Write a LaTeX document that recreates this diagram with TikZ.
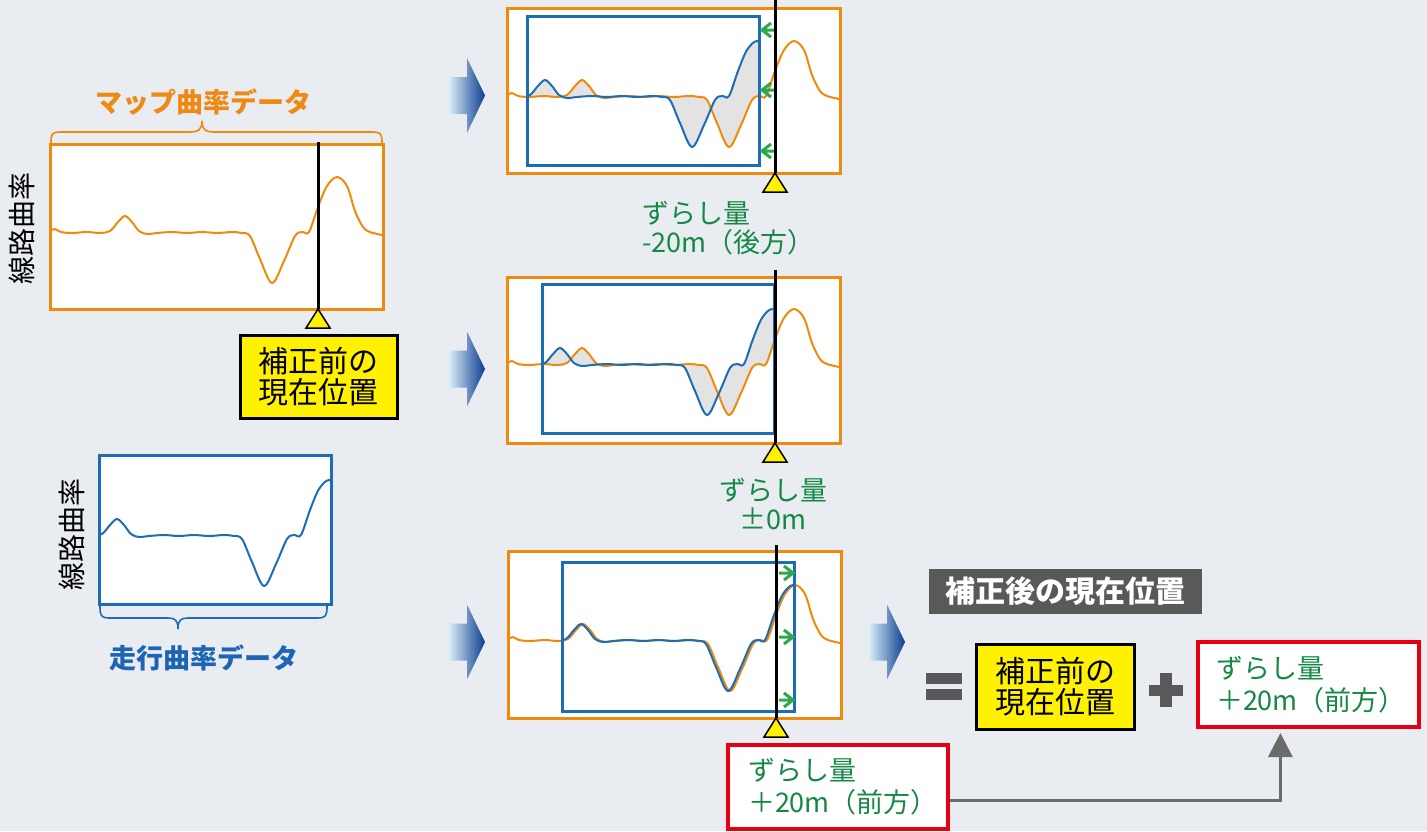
\documentclass[tikz,border=0pt]{standalone}
\usepackage{fontspec}
\newfontfamily\jp{Noto Sans CJK JP}
\usetikzlibrary{arrows.meta,calc}
\definecolor{bgc}{HTML}{E9ECF1}
\definecolor{orn}{HTML}{F08A0C}
\definecolor{blu}{HTML}{1B6DB7}
\definecolor{gtxt}{HTML}{148945}
\definecolor{garr}{HTML}{2EA84F}
\definecolor{redb}{HTML}{E60012}
\definecolor{dgray}{HTML}{595959}
\definecolor{cgray}{HTML}{6B6B6B}
\definecolor{ylw}{HTML}{FFF100}
\definecolor{gfillc}{HTML}{E3E3E3}
\definecolor{arrL}{HTML}{D8EEF9}
\definecolor{arrM}{HTML}{2A7BC4}
\definecolor{arrR}{HTML}{0B3C8E}
\definecolor{otxt}{HTML}{EE8A14}
\definecolor{btxt}{HTML}{1E64B4}

% curve profile: #1 = x of dip minimum, #2 = baseline y
\def\W#1#2{(#1-222,#2-2) (#1-217,#2-4) (#1-211,#2-1) (#1-200,#2) (#1-185,#2-1) (#1-172,#2) (#1-162,#2-2) (#1-154,#2-11) (#1-147,#2-17) (#1-140,#2-11) (#1-133,#2-2) (#1-125,#2+1) (#1-115,#2) (#1-100,#2-1) (#1-85,#2) (#1-70,#2-1) (#1-55,#2) (#1-40,#2-1) (#1-30,#2) (#1-22,#2+3) (#1-12,#2+26) (#1,#2+50) (#1+12,#2+28) (#1+23,#2+3) (#1+30,#2-1) (#1+37,#2-1) (#1+46,#2-26) (#1+55,#2-47) (#1+65,#2-56) (#1+75,#2-47) (#1+83,#2-22) (#1+91,#2-6) (#1+98,#2-1) (#1+110,#2+2)}
\newcommand\wave[3]{\edef\tmpw{\noexpand\draw[#3] plot[smooth,tension=0.55] coordinates {\W{#1}{#2}};}\tmpw}
\newcommand\wavefill[4]{\edef\tmpw{\noexpand\fill[gfill,even odd rule] plot[smooth,tension=0.55] coordinates {\W{#1}{#2}} -- (#1+110,#2+150) -- (#1-222,#2+150) -- cycle plot[smooth,tension=0.55] coordinates {\W{#3}{#4}} -- (#3+110,#2+150) -- (#3-222,#2+150) -- cycle;}\tmpw}
\newcommand\barrow[2]{\shade[left color=arrL, middle color=arrM, right color=arrR] (#1,#2-18.5) -- (#1+18,#2-18.5) -- (#1+18,#2-37.5) -- (#1+36,#2) -- (#1+18,#2+37.5) -- (#1+18,#2+18.5) -- (#1,#2+18.5) -- cycle;}
\newcommand\postri[2]{\draw[tri] (#1,#2) -- (#1-12,#2+19) -- (#1+12,#2+19) -- cycle;}
\newcommand\larr[2]{\draw[garrow] (#1+12,#2) -- (#1+1,#2) (#1+9,#2-7) -- (#1,#2) -- (#1+9,#2+7);}
\newcommand\rarr[2]{\draw[garrow] (#1-14,#2) -- (#1-1,#2) (#1-9,#2-7) -- (#1,#2) -- (#1-9,#2+7);}

\begin{document}
\begin{tikzpicture}[x=1pt,y=-1pt,
  obox/.style={draw=orn, line width=3pt, fill=white},
  bbox/.style={draw=blu, line width=3pt},
  ocurve/.style={orn, line width=2pt},
  bcurve/.style={blu, line width=2pt},
  gfill/.style={fill=gfillc},
  posline/.style={black, line width=3pt},
  tri/.style={fill=ylw, draw=black, line width=1.5pt, line join=miter},
  garrow/.style={garr, line width=3pt, line join=miter},
  brace/.style={line width=1.6pt},
  ylbox/.style={draw=black, line width=3pt, fill=ylw, align=center, inner sep=0pt, font=\jp\fontsize{30}{30.5}\selectfont},
  rbox/.style={draw=redb, line width=4pt, fill=white, align=left, text=gtxt, text width=180pt, inner xsep=20pt, inner ysep=0pt, minimum height=84pt, font=\jp\fontsize{27}{32}\selectfont},
  gtext/.style={text=gtxt, inner sep=0pt, font=\jp\fontsize{27}{29.5}\selectfont},
  conn/.style={cgray, line width=3pt, -{Triangle[width=24pt,length=24pt]}, shorten >=4pt},
  sym/.style={fill=dgray}
]
\useasboundingbox (0,0) rectangle (1427,831);
\fill[bgc] (0,0) rectangle (1427,831);

% ---------- left: map curvature ----------
\draw[obox] (50,144) rectangle (383,309);
\wave{272}{233}{ocurve}
\draw[posline] (318,142) -- (318,309);
\postri{318}{309}
\draw[orn, brace] (51,143) .. controls (51,133) and (52,132) .. (62,132) -- (190,132) .. controls (198,132) and (202,130) .. (202,121) .. controls (202,130) and (206,132) .. (214,132) -- (371,132) .. controls (381,132) and (382,133) .. (382,143);
\node[text=otxt, font=\jp\bfseries\fontsize{27}{30}\selectfont] (maplab) at (203,102) {マップ曲率データ};
\node[rotate=90, font=\jp\fontsize{28}{30}\selectfont] (ylab1) at (22,228) {線路曲率};
\node[ylbox, minimum width=157pt, minimum height=83pt] (before1) at (318.5,376.5) {補正前の\\現在位置};

% ---------- left: running curvature ----------
\draw[bbox, fill=white] (99,455) rectangle (331,604);
\begin{scope}
  \clip (99,455) rectangle (331,604);
  \wave{264}{536}{bcurve}
\end{scope}
\draw[bbox] (99,455) rectangle (331,604);
\draw[blu, brace] (100,606) .. controls (100,616) and (101,618) .. (110,618) -- (168,618) .. controls (175,618) and (178,620) .. (178,629) .. controls (178,620) and (181,618) .. (188,618) -- (317,618) .. controls (326,618) and (327,616) .. (327,606);
\node[text=btxt, font=\jp\bfseries\fontsize{27}{30}\selectfont] (runlab) at (204,658) {走行曲率データ};
\node[rotate=90, font=\jp\fontsize{28}{30}\selectfont] (ylab2) at (72,534) {線路曲率};

% ---------- block arrows ----------
\barrow{449}{95.5}
\barrow{449}{369}
\barrow{449}{642}
\barrow{869}{642}

% ---------- panel 1 : -20m ----------
\draw[obox] (507,8) rectangle (840,173);
\begin{scope}
  \clip (527,16) rectangle (759,165);
  \wavefill{729}{97}{692}{97}
\end{scope}
\wave{729}{97}{ocurve}
\begin{scope}
  \clip (527,16) rectangle (759,165);
  \wave{692}{97}{bcurve}
\end{scope}
\draw[bbox] (527,16) rectangle (759,165);
\draw[posline] (775,0) -- (775,173);
\postri{775}{173}
\larr{762}{30}
\larr{762}{90}
\larr{762}{151}
\node[gtext, align=left, anchor=west] (shift1) at (642,228) {ずらし量\\-20m（後方）};

% ---------- panel 2 : 0m ----------
\draw[obox] (507,277) rectangle (840,443);
\begin{scope}
  \clip (542,284) rectangle (774,433);
  \wavefill{729}{365}{707}{365}
\end{scope}
\wave{729}{365}{ocurve}
\begin{scope}
  \clip (542,284) rectangle (774,433);
  \wave{707}{365}{bcurve}
\end{scope}
\draw[bbox] (542,284) rectangle (774,433);
\draw[posline] (775,270) -- (775,443);
\postri{775}{443}
\node[gtext, align=center] (shift2) at (773,504) {ずらし量\\±0m};

% ---------- panel 3 : +20m ----------
\draw[obox] (508,551) rectangle (841,718);
\wave{730}{641}{ocurve}
\begin{scope}
  \clip (562,562) rectangle (794,711);
  \wave{728}{641}{bcurve}
\end{scope}
\draw[bbox] (562,562) rectangle (794,711);
\draw[posline] (776,545) -- (776,718);
\postri{776}{718}
\rarr{793}{573}
\rarr{793}{637}
\rarr{793}{700}

% ---------- result ----------
\node[rbox] (redA) at (838,787) {ずらし量\\＋20m（前方）};
\node[fill=dgray, text=white, minimum width=273pt, minimum height=45pt, inner sep=0pt, font=\jp\bfseries\fontsize{30}{32}\selectfont] (after) at (1065.5,591.5) {補正後の現在位置};
\fill[sym] (926,673) rectangle (962,684);
\fill[sym] (926,689) rectangle (962,700);
\node[ylbox, minimum width=158pt, minimum height=85pt] (before2) at (1055,686.5) {補正前の\\現在位置};
\fill[sym] (1149,685) rectangle (1183,696);
\fill[sym] (1160,673) rectangle (1172,707);
\node[rbox, text width=185pt, inner xsep=18pt, minimum height=85pt] (redB) at (1308.5,684.5) {ずらし量\\＋20m（前方）};
\draw[conn] ([yshift=-13pt]redA.east) -| ($(redB.south west)!0.375!(redB.south east)$);
\end{tikzpicture}
\end{document}
